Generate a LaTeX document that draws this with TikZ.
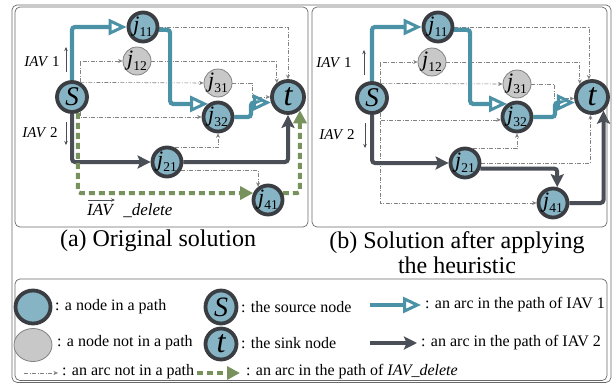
\documentclass[tikz,border=0pt]{standalone}
\usepackage{fontspec}
\setmainfont{Liberation Serif}
\usetikzlibrary{arrows.meta,calc,shapes.geometric}
\pgfdeclarelayer{bg}
\pgfdeclarelayer{bottom}
\pgfsetlayers{bottom,bg,main}
\definecolor{nodeblue}{RGB}{134,180,196}
\definecolor{nodeborder}{RGB}{58,61,66}
\definecolor{graynode}{RGB}{200,200,200}
\definecolor{grayborder}{RGB}{130,130,130}
\definecolor{colTeal}{RGB}{76,146,166}
\definecolor{colDark}{RGB}{74,78,86}
\definecolor{colGreen}{RGB}{120,146,94}
\definecolor{colThin}{RGB}{130,130,130}
\definecolor{colFrame}{RGB}{105,105,105}
\newcommand\jlab[1]{\textit{j}\kern0.2pt\raisebox{-4.5pt}{\fontsize{13.5}{13.5}\selectfont #1}}
\tikzset{
  pathnode/.style={circle, draw=nodeborder, line width=3.8pt, fill=nodeblue, minimum size=29pt, inner sep=0pt, font=\fontsize{22}{22}\selectfont},
  offnode/.style={circle, draw=grayborder, line width=0.8pt, fill=graynode, minimum size=28pt, inner sep=0pt, font=\fontsize{22}{22}\selectfont},
  srcnode/.style={pathnode, minimum size=30pt, font=\fontsize{27}{27}\selectfont\itshape},
  sinknode/.style={pathnode, minimum size=32pt, font=\fontsize{32}{32}\selectfont\itshape},
  iavone/.style={draw=colTeal, line width=4.2pt, rounded corners=3pt, -{Triangle[open,length=18pt,width=16pt,line width=3pt]}},
  iavtwo/.style={draw=colDark, line width=4pt, rounded corners=3pt, -{Stealth[length=13pt,width=13pt,inset=2.5pt]}},
  delarc/.style={draw=colGreen, line width=4pt, dash pattern=on 6pt off 4pt, rounded corners=3pt, -{Triangle[length=13pt,width=13pt]}},
  thinarc/.style={draw=colThin, line width=0.6pt, dash pattern=on 4pt off 1.5pt on 1pt off 1.5pt, -{Stealth[length=4.5pt,width=4pt]}},
  labarrow/.style={draw=colDark, line width=0.6pt, -{Stealth[length=4pt,width=3.5pt]}},
  panel/.style={draw=colFrame, line width=0.7pt, rounded corners=5pt},
  iavlab/.style={inner sep=0pt, font=\fontsize{15}{15}\selectfont},
  capt/.style={inner sep=0pt, font=\fontsize{24}{25}\selectfont},
  legtext/.style={inner sep=0pt, anchor=west, font=\fontsize{16}{16}\selectfont}
}
\begin{document}
\begin{tikzpicture}[x=1pt,y=-1pt]
\useasboundingbox (0,0) rectangle (614,383);
\begin{pgfonlayer}{bottom}
\fill[white] (0,0) rectangle (614,383);
\end{pgfonlayer}
% frames
\draw[panel] (12,5) rectangle (611,382.4);
\draw[panel] (15,7) rectangle (308,227);
\draw[panel] (312,7) rectangle (607,227);
\draw[panel] (15,279) rectangle (607,380.5);

% ---------- panel (a) nodes
\node[srcnode] (aS) at (72,97) {S};
\node[pathnode] (a11) at (143,27) {\jlab{11}};
\node[offnode] (a12) at (137,61) {\jlab{12}};
\node[offnode] (a31) at (218,83) {\jlab{31}};
\node[pathnode] (a32) at (218,117) {\jlab{32}};
\node[sinknode] (at) at (288,97) {t};
\node[pathnode] (a21) at (167,162) {\jlab{21}};
\node[pathnode] (a41) at (268,200) {\jlab{41}};

% ---------- panel (b) nodes
\node[srcnode] (bS) at (372,98) {S};
\node[pathnode] (b11) at (438,27) {\jlab{11}};
\node[offnode] (b12) at (432,62) {\jlab{12}};
\node[offnode] (b31) at (517,84) {\jlab{31}};
\node[pathnode] (b32) at (517,117) {\jlab{32}};
\node[sinknode] (bt) at (592,97) {t};
\node[pathnode] (b21) at (465,163) {\jlab{21}};
\node[pathnode] (b41) at (553,203) {\jlab{41}};

\begin{pgfonlayer}{bg}
% panel (a) thin arcs
\draw[thinarc] (a11.east) -| (at.north);
\draw[thinarc] (aS.62) |- (a12.west);
\draw[thinarc] (a12.east) -| (at.129);
\draw[thinarc] (aS.60) -- (a31.west);
\draw[thinarc] (a31.east) -| ([xshift=-18pt]at.west) -- (at.west);
\draw[thinarc] (aS.-60) |- (a32.west);
\draw[thinarc] (a21.60) -| (a32.south);
\draw[thinarc] (a21.-30) -| (a41.127);
% panel (a) thick arcs
\draw[iavone] (aS.north) |- (a11.west);
\draw[iavone] (a11.-10) -| ([xshift=-38pt]a32.127) -- (a32.127);
\draw[iavone] (a32.east) -| ([xshift=-20pt]at.198) -- (at.198);
\draw[iavtwo] (aS.south) |- (a21.west);
\draw[iavtwo] (a21.east) -| (at.south);
\draw[delarc] (aS.-70) |- (a41.155);
\draw[delarc] (a41.25) -| (at.-48);

% panel (b) thin arcs
\draw[thinarc] (b11.east) -| (bt.100);
\draw[thinarc] (bS.62) |- (b12.west);
\draw[thinarc] (b12.east) -| (bt.133);
\draw[thinarc] (bS.60) -- (b31.west);
\draw[thinarc] (b31.east) -| ([xshift=-20pt]bt.185) -- (bt.185);
\draw[thinarc] (bS.-62) |- (b32.190);
\draw[thinarc] (bS.-62) |- (b41.west);
\draw[thinarc] (b21.60) -| (b32.south);
\draw[thinarc] (b21.east) -| (bt.-95);
% panel (b) thick arcs
\draw[iavone] (bS.north) |- (b11.west);
\draw[iavone] (b11.-10) -| ([xshift=-37pt]b32.127) -- (b32.127);
\draw[iavone] (b32.east) -| ([xshift=-20pt]bt.198) -- (bt.198);
\draw[iavtwo] (bS.south) |- (b21.west);
\draw[iavtwo] (b21.-20) -| (b41.75);
\draw[iavtwo] (b41.east) -| (bt.-50);
\end{pgfonlayer}

% IAV labels
\node[iavlab] (la1) at (42,62) {\textit{IAV} 1};
\coordinate (la1s) at (66,72); \coordinate (la1e) at (66,47);
\draw[labarrow] (la1s) -- (la1e);
\node[iavlab] (la2) at (40,133) {\textit{IAV} 2};
\coordinate (la2s) at (66,122); \coordinate (la2e) at (66,145);
\draw[labarrow] (la2s) -- (la2e);
\node[iavlab] (lb1) at (334,63) {\textit{IAV} 1};
\coordinate (lb1s) at (364,75); \coordinate (lb1e) at (364,50);
\draw[labarrow] (lb1s) -- (lb1e);
\node[iavlab] (lb2) at (337,135) {\textit{IAV} 2};
\coordinate (lb2s) at (365,123); \coordinate (lb2e) at (365,148);
\draw[labarrow] (lb2s) -- (lb2e);
\node[iavlab, anchor=west, font=\fontsize{17}{17}\selectfont] (ldel) at (87,211) {\textit{IAV}\hspace{9pt}\_\textit{delete}};
\coordinate (ldels) at (88,200); \coordinate (ldele) at (115,200);
\draw[labarrow] (ldels) -- (ldele);

% captions
\node[capt] (capa) at (158,241) {(a) Original solution};
\node[capt, align=center] (capb) at (457,253) {(b) Solution after applying\\the heuristic};

% ---------- legend
\node[pathnode, ellipse, minimum width=35pt, minimum height=33pt] (g1) at (33,307) {};
\node[legtext] (g1t) at (55,307) {: a node in a path};
\node[srcnode, ellipse, minimum width=31pt, minimum height=33pt, font=\fontsize{28}{28}\selectfont\itshape] (g2) at (221,307) {S};
\node[legtext] (g2t) at (241,307) {: the source node};
\coordinate (g3s) at (370,305); \coordinate (g3e) at (421,305);
\draw[iavone] (g3s) -- (g3e);
\node[legtext] (g3t) at (425,305) {: an arc in the path of IAV 1};

\node[offnode, ellipse, minimum width=38pt, minimum height=33pt] (g4) at (33,345) {};
\node[legtext] (g4t) at (57,343) {: a node not in a path};
\node[sinknode, ellipse, minimum width=31pt, minimum height=31pt, font=\fontsize{32}{32}\selectfont\itshape] (g5) at (221,344) {t};
\node[legtext] (g5t) at (241,343) {: the sink node};
\coordinate (g6s) at (370,343); \coordinate (g6e) at (417,343);
\draw[iavtwo] (g6s) -- (g6e);
\node[legtext] (g6t) at (421,343) {: an arc in the path of IAV 2};

\coordinate (g7s) at (24,373); \coordinate (g7e) at (58,373);
\draw[thinarc] (g7s) -- (g7e);
\node[legtext] (g7t) at (62,372) {: an arc not in a path};
\coordinate (g8s) at (197,373); \coordinate (g8e) at (240,373);
\draw[delarc] (g8s) -- (g8e);
\node[legtext] (g8t) at (246,372) {: an arc in the path of \textit{IAV\_delete}};
\end{tikzpicture}
\end{document}
